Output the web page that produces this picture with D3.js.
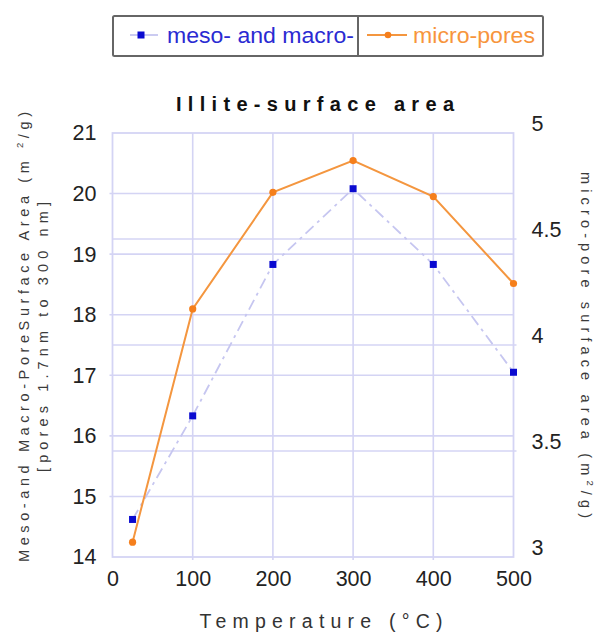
<!DOCTYPE html>
<html><head><meta charset="utf-8">
<script src="https://cdn.jsdelivr.net/npm/d3@7"></script>
<style>
html,body{margin:0;padding:0;background:#fff;}
svg{display:block;font-family:"Liberation Sans",Arial,sans-serif;}
</style></head>
<body>
<script>
const temps = [25, 100, 200, 300, 400, 500];
const mesoMacro = [14.62, 16.33, 18.83, 20.08, 18.83, 17.05];
const micro = [3.07, 4.17, 4.72, 4.87, 4.70, 4.29];
const xTicks = [0, 100, 200, 300, 400, 500];
const leftTicks = [14, 15, 16, 17, 18, 19, 20, 21];
const rightTicks = [3, 3.5, 4, 4.5, 5];
const seriesNames = ["meso- and macro-", "micro-pores"];
const chartTitle = "Illite-surface area";

const W = 602, H = 634;
const m = {left: 112.5, right: 602 - 513.5, top: 133, bottom: 634 - 557};
const svg = d3.select("body").append("svg").attr("width", W).attr("height", H);

const x = d3.scaleLinear().domain([0, 500]).range([m.left, W - m.right]);
const yL = d3.scaleLinear().domain([14, 21]).range([H - m.bottom, m.top]);
const yR = d3.scaleLinear().domain([3, 5]).range([H - m.bottom, m.top]);

const gridC = "#d4d4f4";
const g = svg.append("g");
leftTicks.filter(t => t > 14 && t < 21).forEach(t => {
  g.append("line").attr("x1", x(0) - 3).attr("x2", x(500)).attr("y1", yL(t)).attr("y2", yL(t))
    .attr("stroke", gridC).attr("stroke-width", 1.6);
});
rightTicks.filter(t => t > 3 && t < 5).forEach(t => {
  g.append("line").attr("x1", x(0)).attr("x2", x(500) + 3).attr("y1", yR(t)).attr("y2", yR(t))
    .attr("stroke", gridC).attr("stroke-width", 1.6);
});
xTicks.filter(t => t > 0 && t < 500).forEach(t => {
  g.append("line").attr("x1", x(t)).attr("x2", x(t)).attr("y1", yL(21)).attr("y2", yL(14) + 3)
    .attr("stroke", gridC).attr("stroke-width", 1.6);
});
g.append("rect").attr("x", x(0)).attr("y", yL(21)).attr("width", x(500) - x(0)).attr("height", yL(14) - yL(21))
  .attr("fill", "none").attr("stroke", gridC).attr("stroke-width", 1.8);

const axL = d3.axisLeft(yL).tickValues(leftTicks).tickSize(0).tickPadding(16).tickFormat(d3.format("d"));
const axR = d3.axisRight(yR).tickValues(rightTicks).tickSize(0).tickPadding(18).tickFormat(d => String(d));
const axB = d3.axisBottom(x).tickValues(xTicks).tickSize(0).tickPadding(14).tickFormat(d3.format("d"));
function styleAx(sel){
  sel.select(".domain").remove();
  sel.selectAll("text").attr("font-size", 21.5).attr("fill", "#222").attr("font-family", "Liberation Sans, Arial, sans-serif");
}
svg.append("g").attr("transform", `translate(${x(0)},0)`).call(axL).call(styleAx);
svg.append("g").attr("transform", `translate(${x(500)},0)`).call(axR).call(styleAx)
  .selectAll("text").attr("dy", "-0.1em");
svg.append("g").attr("transform", `translate(0,${yL(14)})`).call(axB).call(styleAx);

const lineL = d3.line().x((d, i) => x(temps[i])).y(d => yL(d));
svg.append("path").datum(mesoMacro).attr("d", lineL).attr("fill", "none")
  .attr("stroke", "#c6c6f0").attr("stroke-width", 1.8).attr("stroke-dasharray", "11,5,3,5");
svg.selectAll(".sq").data(mesoMacro).join("rect")
  .attr("x", (d, i) => x(temps[i]) - 3.5).attr("y", d => yL(d) - 3.5)
  .attr("width", 7).attr("height", 7).attr("fill", "#0a0ad0");

const lineR = d3.line().x((d, i) => x(temps[i])).y(d => yR(d));
svg.append("path").datum(micro).attr("d", lineR).attr("fill", "none")
  .attr("stroke", "#f4963f").attr("stroke-width", 2);
svg.selectAll(".dot").data(micro).join("circle")
  .attr("cx", (d, i) => x(temps[i])).attr("cy", d => yR(d)).attr("r", 3.6).attr("fill", "#f57f1c");

svg.append("text").attr("x", 315).attr("y", 111).attr("text-anchor", "middle")
  .attr("font-size", 20).attr("font-weight", "bold").attr("fill", "#111")
  .attr("textLength", 278).attr("lengthAdjust", "spacing").text(chartTitle);

svg.append("text").attr("x", 321).attr("y", 628).attr("text-anchor", "middle")
  .attr("font-size", 19.5).attr("fill", "#333")
  .attr("textLength", 243).attr("lengthAdjust", "spacing").text("Temperature (°C)");

const lt = svg.append("g").attr("transform", "translate(29,337) rotate(-90)");
const l1 = lt.append("text").attr("text-anchor", "middle").attr("font-size", 14.5).attr("fill", "#3a3a3a")
  .attr("textLength", 450).attr("lengthAdjust", "spacing");
l1.append("tspan").text("Meso-and Macro-PoreSurface Area (m ");
l1.append("tspan").attr("font-size", 9.5).attr("dy", -6).text("2");
l1.append("tspan").attr("dy", 6).text("/g)");
lt.append("text").attr("y", 19).attr("text-anchor", "middle").attr("font-size", 14.5).attr("fill", "#3a3a3a")
  .attr("textLength", 270).attr("lengthAdjust", "spacing").text("[pores 1.7nm to 300 nm]");

const rt = svg.append("g").attr("transform", "translate(581,345) rotate(90)");
const r1 = rt.append("text").attr("text-anchor", "middle").attr("font-size", 14.5).attr("fill", "#3a3a3a")
  .attr("textLength", 346).attr("lengthAdjust", "spacing");
r1.append("tspan").text("micro-pore surface area (m");
r1.append("tspan").attr("font-size", 9.5).attr("dy", -6).text("2");
r1.append("tspan").attr("dy", 6).text("/g)");

const lg = svg.append("g");
lg.append("rect").attr("x", 113).attr("y", 16).attr("width", 430).attr("height", 40)
  .attr("fill", "#fff").attr("stroke", "#666").attr("stroke-width", 2).attr("rx", 1.5);
lg.append("line").attr("x1", 358).attr("x2", 358).attr("y1", 16).attr("y2", 56).attr("stroke", "#666").attr("stroke-width", 2);
lg.append("line").attr("x1", 130).attr("x2", 158).attr("y1", 35).attr("y2", 35).attr("stroke", "#c6c6f0").attr("stroke-width", 1.8);
lg.append("rect").attr("x", 137.5).attr("y", 31.5).attr("width", 7).attr("height", 7).attr("fill", "#0a0ad0");
lg.append("text").attr("x", 167).attr("y", 43).attr("font-size", 22).attr("fill", "#2a2ad2")
  .attr("textLength", 187).attr("lengthAdjust", "spacingAndGlyphs").text(seriesNames[0]);
lg.append("line").attr("x1", 367).attr("x2", 407).attr("y1", 35).attr("y2", 35).attr("stroke", "#f4963f").attr("stroke-width", 2);
lg.append("circle").attr("cx", 388).attr("cy", 35).attr("r", 3.3).attr("fill", "#f57f1c");
lg.append("text").attr("x", 413).attr("y", 43).attr("font-size", 22).attr("fill", "#f7953c")
  .attr("textLength", 122).attr("lengthAdjust", "spacingAndGlyphs").text(seriesNames[1]);
</script>
</body></html>
